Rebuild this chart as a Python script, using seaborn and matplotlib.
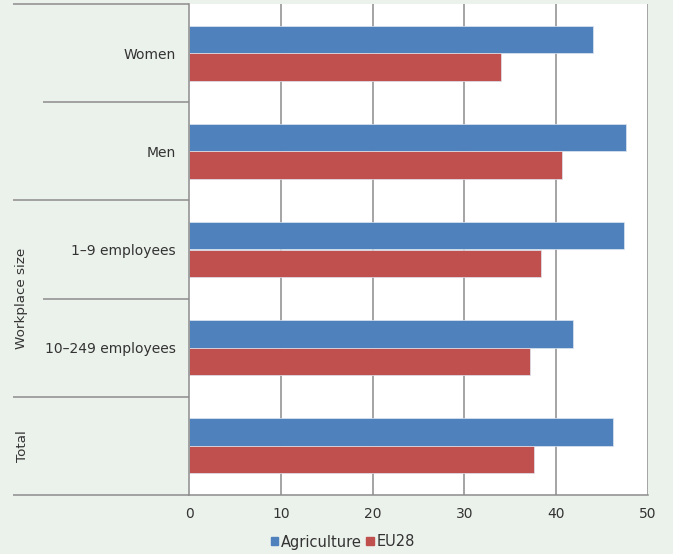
import matplotlib
matplotlib.use("Agg")
import matplotlib.pyplot as plt
import matplotlib.transforms as mtransforms
import pandas as pd
import seaborn as sns

# Data
categories = ["Women", "Men", "1\u20139 employees", "10\u2013249 employees", "Total"]
inner_labels = ["Women", "Men", "1\u20139 employees", "10\u2013249 employees", ""]
agriculture = [44.0, 47.6, 47.4, 41.8, 46.2]
eu28 = [34.0, 40.6, 38.3, 37.1, 37.6]
series_names = ["Agriculture", "EU28"]
x_ticks = [0, 10, 20, 30, 40, 50]

df = pd.DataFrame({
    "category": categories * 2,
    "value": agriculture + eu28,
    "series": [series_names[0]] * len(categories) + [series_names[1]] * len(categories),
})

BG = "#EBF1EB"
GRID = "#8C8C8C"
TEXT = "#333333"
palette = {"Agriculture": "#4F81BD", "EU28": "#C0504D"}

sns.set_theme(style="white")
plt.rcParams["font.family"] = ["DejaVu Sans"]

fig = plt.figure(figsize=(6.73, 5.54), dpi=100, facecolor=BG)
ax = fig.add_axes([189 / 673, 1 - 495 / 554, (648 - 189) / 673, (495 - 4) / 554])
ax.set_facecolor("white")

sns.barplot(data=df, y="category", x="value", hue="series", order=categories,
            hue_order=series_names, palette=palette, orient="h", width=0.56,
            gap=0, saturation=1, edgecolor="#DDE6F0", linewidth=0.5, ax=ax)

ax.set_xlim(0, 50)
ax.set_ylim(4.5, -0.5)
ax.set_xticks(x_ticks)
ax.set_xticklabels([str(t) for t in x_ticks], fontsize=10, color=TEXT)
ax.set_yticks(range(len(categories)))
ax.set_yticklabels(inner_labels, fontsize=10, color=TEXT)
ax.tick_params(axis="y", length=0, pad=9.5)
ax.tick_params(axis="x", length=4, width=1.1, color=GRID, pad=5, direction="out")
ax.set_xlabel("")
ax.set_ylabel("")

# Vertical gridlines
for t in x_ticks[1:]:
    ax.axvline(t, color=GRID, lw=1.1, zorder=0)
for side in ["top", "right"]:
    ax.spines[side].set_visible(False)
for side in ["left", "bottom"]:
    ax.spines[side].set_color(GRID)
    ax.spines[side].set_linewidth(1.1)

# Multi-level category separators on the left
trans = mtransforms.blended_transform_factory(ax.transAxes, ax.transData)
x_outer = (13 - 189) / 459
x_inner = (43 - 189) / 459
separators = [(-0.5, x_outer), (0.5, x_inner), (1.5, x_outer),
              (2.5, x_inner), (3.5, x_outer), (4.5, x_outer)]
for yb, x0 in separators:
    ax.plot([x0, 0], [yb, yb], transform=trans, color=GRID, lw=1.1,
            clip_on=False, solid_capstyle="butt")

x_group = (22 - 189) / 459
ax.text(x_group, 2.5, "Workplace size", transform=trans, rotation=90,
        ha="center", va="center", fontsize=9.7, color=TEXT)
ax.text(x_group, 4.0, "Total", transform=trans, rotation=90,
        ha="center", va="center", fontsize=9.7, color=TEXT)

# Legend at the bottom
ax.get_legend().remove()
handles = [plt.Rectangle((0, 0), 1, 1, color=palette[s]) for s in series_names]
fig.legend(handles, series_names, loc="center", bbox_to_anchor=(343 / 673, 1 - 542 / 554),
           ncol=2, frameon=False, fontsize=10.5, handlelength=0.5, handleheight=0.5,
           handletextpad=0.2, columnspacing=0.3, labelcolor=TEXT)

fig.savefig("out.png", dpi=100, facecolor=BG)
